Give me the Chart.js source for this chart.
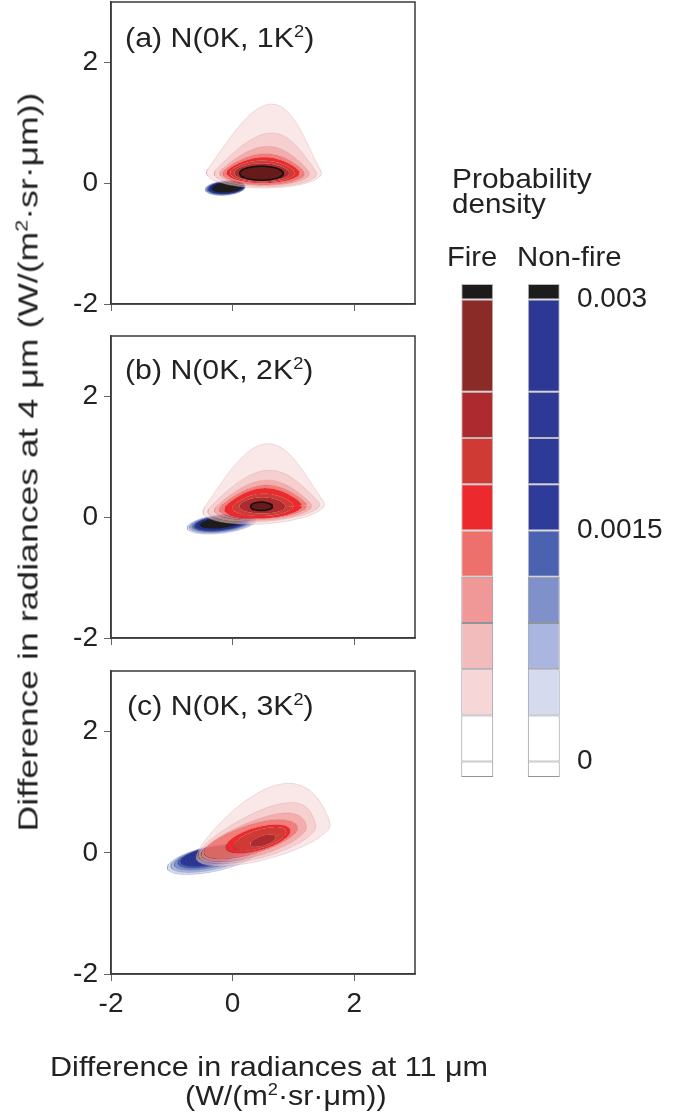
<!DOCTYPE html>
<html>
<head>
<meta charset="utf-8">
<script src="https://cdn.jsdelivr.net/npm/chart.js@4.4.1/dist/chart.umd.min.js"></script>
<style>
  body { margin: 0; background: #fff; width: 694px; height: 1118px; position: relative; overflow: hidden;
         font-family: "Liberation Sans", Arial, sans-serif; color: #222; }
  canvas { position: absolute; left: 0; top: 0; }
  .lbl { position: absolute; white-space: nowrap; line-height: 1; font-size: 28px; transform-origin: 0 0; }
  .sup { font-size: 0.6em; position: relative; top: -0.6em; }
</style>
</head>
<body>
<canvas id="pa" width="694" height="1118"></canvas>
<canvas id="pb" width="694" height="1118"></canvas>
<canvas id="pc" width="694" height="1118"></canvas>
<canvas id="cbar" width="694" height="1118"></canvas>

<div class="lbl" id="ta">(a) N(0K, 1K<span class="sup">2</span>)</div>
<div class="lbl" id="tb">(b) N(0K, 2K<span class="sup">2</span>)</div>
<div class="lbl" id="tc">(c) N(0K, 3K<span class="sup">2</span>)</div>
<div class="lbl" id="prob">Probability</div>
<div class="lbl" id="dens">density</div>
<div class="lbl" id="lfire">Fire</div>
<div class="lbl" id="lnon">Non-fire</div>
<div class="lbl" id="xt1">Difference in radiances at 11 μm</div>
<div class="lbl" id="xt2">(W/(m<span class="sup">2</span>·sr·μm))</div>
<div class="lbl" id="ytitle">Difference in radiances at 4 μm (W/(m<span class="sup">2</span>·sr·μm))</div>

<script>
// axes
var xTicks = [-2, 0, 2];
var yTicks = [-2, 0, 2];

// density levels and colours (colour bar)
var bandLow  = [-0.0001, 0, 0.0003, 0.0006, 0.0009, 0.0012, 0.0015, 0.0018, 0.0021, 0.0024, 0.003];
var bandHigh = [0, 0.0003, 0.0006, 0.0009, 0.0012, 0.0015, 0.0018, 0.0021, 0.0024, 0.003, 0.0031];
var cbTicks = [0, 0.0015, 0.003];
var cbTickLabels = ['0', '0.0015', '0.003'];
var cbNames = ['Fire', 'Non-fire'];

var fireColors    = ['#f6d6d6', '#f2bcbc', '#f09898', '#ee706c', '#ec2a2e', '#d03a34', '#ad2a2e', '#8b2b28', '#1e1a1a'];
var nonfireColors = ['#d6daee', '#aab6e0', '#8090c8', '#4a62b0', '#2f3b99', '#2e3a97', '#2d3995', '#2c3893', '#1c1c1c'];
var fireAlpha = [0.55, 0.7, 0.8, 0.9, 1, 1, 1];
var coreFill = '#641b19';

// contour outlines: [cx, cy, rx, ry, tiltDeg, peak, peakShift, peakPow]
var fireA = [
  [0.515, 0.17, 0.945, 0.25, 0, 0.89, 0.125, 3],
  [0.54, 0.16, 0.84, 0.22, 0, 0.45, 0.10, 3],
  [0.525, 0.16, 0.735, 0.20, 0, 0.25, 0.05, 3],
  [0.51, 0.16, 0.67, 0.19, 0, 0.14, 0.03, 3],
  [0.50, 0.17, 0.60, 0.17, 0, 0.09, 0.02, 3],
  [0.49, 0.17, 0.53, 0.155, 0, 0.05, 0, 3],
  [0.48, 0.17, 0.45, 0.14, 0, 0.02, 0, 3]
];
var coreA = [0.475, 0.165, 0.36, 0.115, 0];
var nonfireA = [
  [-0.12, -0.08, 0.33, 0.12, 5],
  [-0.115, -0.08, 0.32, 0.114, 5],
  [-0.11, -0.078, 0.31, 0.108, 5],
  [-0.105, -0.076, 0.30, 0.103, 5],
  [-0.10, -0.074, 0.29, 0.099, 5],
  [-0.10, -0.072, 0.28, 0.095, 5],
  [-0.095, -0.07, 0.27, 0.092, 5],
  [-0.09, -0.07, 0.26, 0.089, 5],
  [-0.09, -0.068, 0.25, 0.085, 5]
];

var fireB = [
  [0.51, 0.15, 1.00, 0.26, 4, 0.80, 0.12, 3],
  [0.51, 0.15, 0.92, 0.22, 4, 0.40, 0.10, 3],
  [0.50, 0.15, 0.80, 0.20, 3, 0.26, 0.06, 3],
  [0.50, 0.16, 0.72, 0.19, 3, 0.18, 0.04, 3],
  [0.50, 0.16, 0.64, 0.18, 3, 0.14, 0.02, 3],
  [0.50, 0.17, 0.50, 0.15, 2, 0.07, 0, 3],
  [0.49, 0.18, 0.38, 0.12, 0, 0.03, 0, 3]
];
var coreB = [0.475, 0.18, 0.18, 0.07, 0];
var nonfireB = [
  [-0.18, -0.11, 0.57, 0.155, 7],
  [-0.18, -0.105, 0.53, 0.145, 7],
  [-0.185, -0.10, 0.49, 0.135, 7],
  [-0.185, -0.10, 0.46, 0.125, 7],
  [-0.19, -0.095, 0.43, 0.115, 7],
  [-0.19, -0.095, 0.41, 0.11, 7],
  [-0.19, -0.09, 0.39, 0.105, 7],
  [-0.19, -0.09, 0.37, 0.10, 7],
  [-0.19, -0.09, 0.35, 0.09, 7]
];

var fireC = [
  [0.50, 0.20, 1.14, 0.31, 15, 0.52, 0.45, 2],
  [0.40, 0.21, 1.00, 0.30, 15, 0.18, 0.45, 2],
  [0.35, 0.21, 0.90, 0.27, 16, 0.05, 0.30, 2],
  [0.30, 0.21, 0.80, 0.23, 16, 0.02, 0.10, 2],
  [0.42, 0.23, 0.55, 0.19, 16, 0, 0, 2],
  [0.45, 0.23, 0.45, 0.15, 17, 0, 0, 2],
  [0.50, 0.20, 0.22, 0.08, 18, 0, 0, 2]
];
var coreC = null;
var nonfireC = [
  [-0.33, -0.10, 0.76, 0.21, 12],
  [-0.35, -0.09, 0.68, 0.19, 12],
  [-0.37, -0.08, 0.60, 0.17, 12],
  [-0.39, -0.07, 0.52, 0.155, 12],
  [-0.40, -0.06, 0.46, 0.14, 12],
  [-0.38, -0.05, 0.43, 0.13, 12],
  [-0.35, -0.04, 0.40, 0.12, 12],
  [-0.32, -0.03, 0.37, 0.11, 12],
  [-0.27, 0.00, 0.33, 0.10, 12]
];

Chart.defaults.font.family = '"Liberation Sans", Arial, sans-serif';
Chart.defaults.color = '#222';

function rgba(hex, a) {
  var n = parseInt(hex.slice(1), 16);
  return 'rgba(' + (n >> 16) + ',' + ((n >> 8) & 255) + ',' + (n & 255) + ',' + a + ')';
}

// closed outline of one contour in data units
function outline(c) {
  var ang = c[4] * Math.PI / 180, pk = c[5] || 0, sh = c[6] || 0, pw = c[7] || 3;
  var pts = [];
  for (var i = 0; i <= 120; i++) {
    var t = i / 120 * 2 * Math.PI, s = Math.sin(t);
    var u = c[2] * Math.cos(t), v = c[3] * s;
    if (s > 0) { var w = Math.pow(s, pw); v += pk * w; u += sh * w; }
    pts.push({ x: c[0] + u * Math.cos(ang) - v * Math.sin(ang), y: c[1] + u * Math.sin(ang) + v * Math.cos(ang) });
  }
  return pts;
}

function area(pts, fill) {
  return { data: pts, showLine: true, pointRadius: 0, tension: 0, fill: 'shape',
           backgroundColor: fill, borderWidth: 0 };
}
function edge(c, col, width) {
  return { data: outline(c), showLine: true, pointRadius: 0, tension: 0, fill: false,
           borderColor: col, borderWidth: width };
}

var boxPlugin = {
  id: 'box',
  afterDraw: function (chart) {
    var a = chart.chartArea, ctx = chart.ctx;
    ctx.save();
    ctx.strokeStyle = '#3a3a3a';
    ctx.lineWidth = 1.5;
    ctx.strokeRect(a.left, a.top, a.right - a.left, a.bottom - a.top);
    ctx.restore();
  }
};

function makePanel(id, top, bottom, fire, core, nonfire, xLabels) {
  var sets = [];
  nonfire.forEach(function (c, i) {
    sets.push(area(outline(c), nonfireColors[i]));
    sets.push(edge(c, 'rgba(30,40,110,0.25)', 0.6));
  });
  // fire bands are rings (outer level minus next level), so translucency does not stack
  fire.forEach(function (c, i) {
    var inner = i + 1 < fire.length ? fire[i + 1] : core;
    var pts = outline(c);
    if (inner) pts = pts.concat(outline(inner).reverse());
    sets.push(area(pts, rgba(fireColors[i], fireAlpha[i])));
    sets.push(edge(c, 'rgba(170,60,60,0.22)', 0.7));
  });
  if (core) {
    sets.push(area(outline(core), coreFill));
    sets.push(edge(core, '#111', 1.5));
  }
  sets.forEach(function (d, i) { d.order = sets.length - i; });
  var xh = xLabels ? 48 : 8;
  new Chart(document.getElementById(id), {
    type: 'scatter',
    data: { datasets: sets },
    options: {
      responsive: false, animation: false, events: [], devicePixelRatio: 1,
      layout: { padding: { left: 0, top: top, right: 694 - 415, bottom: 1118 - bottom - xh } },
      scales: {
        x: {
          type: 'linear', min: -2, max: 3,
          afterBuildTicks: function (s) { s.ticks = xTicks.map(function (v) { return { value: v }; }); },
          afterFit: function (s) { s.height = xh; s.paddingLeft = 0; s.paddingRight = 0; },
          ticks: { display: xLabels, font: { size: 28 }, color: '#222', padding: 6 },
          grid: { drawOnChartArea: false, tickLength: 7, color: '#666' },
          border: { color: '#3a3a3a', width: 1.5 }
        },
        y: {
          type: 'linear', min: -2, max: 3,
          afterBuildTicks: function (s) { s.ticks = yTicks.map(function (v) { return { value: v }; }); },
          afterFit: function (s) { s.width = 111; s.paddingTop = 0; s.paddingBottom = 0; },
          ticks: { font: { size: 28 }, color: '#222', padding: 6 },
          grid: { drawOnChartArea: false, tickLength: 7, color: '#666' },
          border: { color: '#3a3a3a', width: 1.5 }
        }
      },
      plugins: { legend: { display: false }, tooltip: { enabled: false } }
    },
    plugins: [boxPlugin]
  });
}

makePanel('pa', 2, 304, fireA, coreA, nonfireA, false);
makePanel('pb', 336, 638, fireB, coreB, nonfireB, false);
makePanel('pc', 671, 974, fireC, coreC, nonfireC, true);

// colour bar as floating bars
var cbSets = bandLow.map(function (lo, i) {
  var fc = i < 2 ? '#ffffff' : fireColors[i - 2];
  var nc = i < 2 ? '#ffffff' : nonfireColors[i - 2];
  return {
    data: [[lo, bandHigh[i]], [lo, bandHigh[i]]],
    backgroundColor: [fc, nc],
    borderColor: i < 5 ? '#8e959c' : 'rgba(30,20,40,0.3)',
    borderWidth: 1, borderSkipped: false
  };
});
new Chart(document.getElementById('cbar'), {
  type: 'bar',
  data: { labels: cbNames, datasets: cbSets },
  options: {
    responsive: false, animation: false, events: [], devicePixelRatio: 1,
    layout: { padding: { left: 444, top: 284, right: 0, bottom: 1118 - 777 } },
    datasets: { bar: { grouped: false, categoryPercentage: 1, barPercentage: 0.48 } },
    scales: {
      x: { display: false },
      y: {
        position: 'right', min: -0.0001, max: 0.0031,
        afterBuildTicks: function (s) { s.ticks = cbTicks.map(function (v) { return { value: v }; }); },
        afterFit: function (s) { s.width = 117; s.paddingTop = 0; s.paddingBottom = 0; },
        ticks: { font: { size: 28 }, color: '#222', padding: 0,
                 callback: function (v, i) { return cbTickLabels[i]; } },
        grid: { display: false, drawTicks: false },
        border: { display: false }
      }
    },
    plugins: { legend: { display: false }, tooltip: { enabled: false } }
  }
});

// text placement: left x, cap-centre y, target width
function fitLabel(id, x, cy, w) {
  var el = document.getElementById(id);
  var fs = parseFloat(getComputedStyle(el).fontSize);
  el.style.left = x + 'px';
  el.style.top = (cy - 0.49 * fs) + 'px';
  el.style.transform = 'scaleX(' + (w / el.offsetWidth) + ')';
}
fitLabel('ta', 125, 38, 189);
fitLabel('tb', 125, 370, 188);
fitLabel('tc', 127, 706, 187);
fitLabel('prob', 452, 179, 140);
fitLabel('dens', 452, 204, 94);
fitLabel('lfire', 447, 257, 50);
fitLabel('lnon', 517, 257, 105);
fitLabel('xt1', 50, 1067, 438);
fitLabel('xt2', 185, 1096, 202);

var yt = document.getElementById('ytitle');
var yw = yt.offsetWidth, yh = yt.offsetHeight;
yt.style.left = (28 - yw / 2) + 'px';
yt.style.top = (462 - yh / 2) + 'px';
yt.style.transformOrigin = '50% 50%';
yt.style.transform = 'rotate(-90deg) scaleX(' + (739 / yw) + ')';
</script>
</body>
</html>
